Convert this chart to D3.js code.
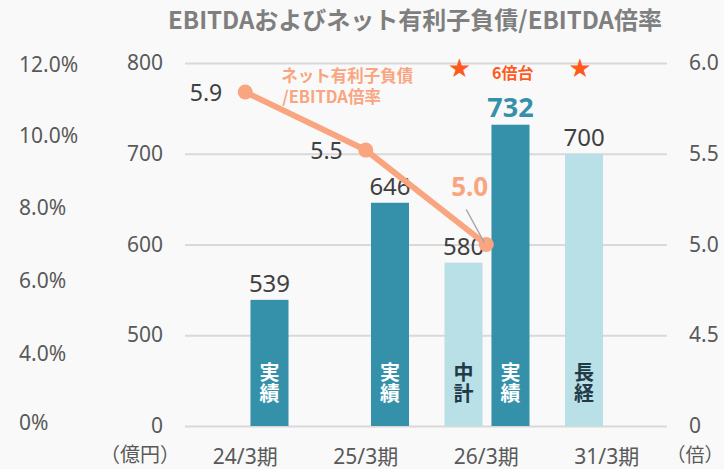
<!DOCTYPE html>
<html>
<head>
<meta charset="utf-8">
<script src="https://cdn.jsdelivr.net/npm/d3@7"></script>
<style>
    body { margin: 0; background: #f9f9f9; }
    svg { display: block; background: #f9f9f9; font-family: "Noto Sans", "Noto Sans CJK JP", sans-serif; }
</style>
</head>
<body>
<svg id="drawing_region"></svg>
<script>
// data
const categories = ['24/3期', '25/3期', '26/3期', '31/3期'];
const planValues = [null, null, 580, 700];       // 中計 / 長経 targets
const planTags = ['', '', '中計', '長経'];
const actualValues = [539, 646, 732, null];      // 実績
const actualTag = '実績';
const ratioValues = [5.84, 5.52, 5.0];           // ネット有利子負債/EBITDA倍率
const ratioLabels = ['5.9', '5.5', '5.0'];
const amountTicks = [0, 500, 600, 700, 800];
const ratioTicks = [0, 4.5, 5.0, 5.5, 6.0];
const percentTicks = [0, 4, 6, 8, 10, 12];
const highlightCategory = '26/3期';

class ComboChart {

    constructor( config ) {
        this.config = config;
        this.bar_dark = '#3591aa';
        this.bar_light = '#b9dfe7';
        this.line_color = '#f9a57f';
        this.accent = '#ff5a1e';
        this.init();
    }

    init() {
        let self = this;
        const m = self.config.margin;

        self.svg = d3.select( self.config.parent )
            .attr('width', self.config.width)
            .attr('height', self.config.height);

        self.inner_width = self.config.width - m.left - m.right;
        self.inner_height = self.config.height - m.top - m.bottom;
        const h = self.inner_height;

        self.chart = self.svg.append('g')
            .attr('transform', `translate(${m.left}, ${m.top})`);

        self.xscale = d3.scaleBand()
            .domain( categories )
            .range( [0, self.inner_width] );

        self.subscale = d3.scaleBand()
            .domain( ['plan', 'actual'] )
            .range( [18.5, 103.5] )
            .paddingInner( 0.19 );

        // broken axes: the first band covers 0 -> first tick
        self.yscale = d3.scaleLinear()
            .domain( amountTicks )
            .range( [h, h*3/4, h/2, h/4, 0] );

        self.rscale = d3.scaleLinear()
            .domain( ratioTicks )
            .range( [h, h*3/4, h/2, h/4, 0] );

        self.pscale = d3.scaleLinear()
            .domain( percentTicks )
            .range( [h-3, h*0.8, h*0.6, h*0.4, h*0.2, 2] );

        self.svg.append('text')
            .attr('x', 415)
            .attr('y', 29)
            .attr('text-anchor', 'middle')
            .style('font-family', '"Noto Sans CJK JP", sans-serif')
            .style('font-size', '24px')
            .style('font-weight', 'bold')
            .style('fill', '#7f7f7f')
            .text('EBITDAおよびネット有利子負債/EBITDA倍率');
    }

    render() {
        let self = this;
        const h = self.inner_height;
        const w = self.inner_width;
        const bw = self.subscale.bandwidth();

        // percentage axis (far left)
        const paxis = self.chart.append('g')
            .attr('transform', `translate(${19 - self.config.margin.left}, 0)`)
            .call( d3.axisRight( self.pscale )
                .tickValues( percentTicks )
                .tickSize( 0 ).tickPadding( 0 )
                .tickFormat( d => d === 0 ? '0%' : d.toFixed(1) + '%' ) );

        // amount axis with gridlines
        const yaxis = self.chart.append('g')
            .call( d3.axisLeft( self.yscale )
                .tickValues( amountTicks )
                .tickSizeInner( -w ).tickSizeOuter( 0 ).tickPadding( 22 ) );

        // ratio axis (right)
        const raxis = self.chart.append('g')
            .attr('transform', `translate(${w}, 0)`)
            .call( d3.axisRight( self.rscale )
                .tickValues( ratioTicks )
                .tickSize( 0 ).tickPadding( 22 )
                .tickFormat( d => d === 0 ? '0' : d.toFixed(1) ) );

        const xaxis = self.chart.append('g')
            .attr('transform', `translate(0, ${h})`)
            .call( d3.axisBottom( self.xscale ).tickSize( 0 ).tickPadding( 23 ) );

        [paxis, yaxis, raxis, xaxis].forEach( g => {
            g.select('.domain').remove();
            g.selectAll('text')
                .style('font-size', '21px')
                .style('fill', '#595959')
                .style('font-family', '"Noto Sans", "Noto Sans CJK JP", sans-serif');
        });
        yaxis.selectAll('line')
            .attr('stroke', '#d9d9d9')
            .attr('stroke-width', 2);

        self.chart.append('text')
            .attr('x', 140 - self.config.margin.left)
            .attr('y', h + 36)
            .attr('text-anchor', 'middle')
            .style('font-size', '20px')
            .style('fill', '#595959')
            .text('（億円）');

        self.chart.append('text')
            .attr('x', w + 28)
            .attr('y', h + 36)
            .attr('text-anchor', 'middle')
            .style('font-size', '19px')
            .style('fill', '#595959')
            .text('（倍）');

        // bars
        const bars = [];
        categories.forEach( (c, i) => {
            if (planValues[i] != null) bars.push({ cat: c, key: 'plan', value: planValues[i], tag: planTags[i] });
            if (actualValues[i] != null) bars.push({ cat: c, key: 'actual', value: actualValues[i], tag: actualTag });
        });
        const bx = d => self.xscale( d.cat ) + self.subscale( d.key );
        const hi = d => d.key === 'actual' && d.cat === highlightCategory;

        self.chart.selectAll('rect.bar')
            .data( bars )
            .join('rect')
            .attr('class', 'bar')
            .attr('x', bx)
            .attr('y', d => self.yscale( d.value ))
            .attr('width', bw)
            .attr('height', d => h - self.yscale( d.value ))
            .attr('fill', d => d.key === 'actual' ? self.bar_dark : self.bar_light);

        // value labels above bars
        self.chart.selectAll('text.value')
            .data( bars )
            .join('text')
            .attr('class', 'value')
            .attr('x', d => bx(d) + bw / 2)
            .attr('y', d => self.yscale( d.value ) - 8)
            .attr('text-anchor', 'middle')
            .style('font-size', d => hi(d) ? '27px' : '24px')
            .style('font-weight', d => hi(d) ? 'bold' : 'normal')
            .style('fill', d => hi(d) ? self.bar_dark : '#404040')
            .text(d => d.value);

        // vertical tags inside bars
        self.chart.selectAll('text.tag')
            .data( bars )
            .join('text')
            .attr('class', 'tag')
            .attr('x', d => bx(d) + bw / 2)
            .attr('y', h - 64)
            .style('writing-mode', 'vertical-rl')
            .style('text-orientation', 'upright')
            .style('letter-spacing', '1px')
            .style('font-family', '"Noto Sans CJK JP", sans-serif')
            .style('font-size', '20px')
            .style('font-weight', 'bold')
            .style('fill', d => d.key === 'actual' ? '#ffffff' : '#1f3b47')
            .text( d => d.tag );

        // ratio line
        const pts = ratioValues.map( (v, i) => ({
            x: self.xscale( categories[i] ) + self.xscale.bandwidth() / 2,
            y: self.rscale( v ),
            label: ratioLabels[i]
        }));

        self.chart.append('path')
            .datum( pts )
            .attr('fill', 'none')
            .attr('stroke', self.line_color)
            .attr('stroke-width', 6)
            .attr('d', d3.line().x(d => d.x).y(d => d.y));

        self.chart.selectAll('circle')
            .data( pts )
            .join('circle')
            .attr('cx', d => d.x)
            .attr('cy', d => d.y)
            .attr('r', 7.5)
            .attr('fill', self.line_color);

        pts.forEach( (p, i) => {
            if (i < pts.length - 1) {
                self.chart.append('text')
                    .attr('x', p.x - 23)
                    .attr('y', p.y)
                    .attr('text-anchor', 'end')
                    .attr('dominant-baseline', 'central')
                    .style('font-size', '23px')
                    .style('fill', '#404040')
                    .text( p.label );
            } else {
                // callout for the latest value
                self.chart.append('line')
                    .attr('x1', p.x - 20).attr('y1', p.y - 35)
                    .attr('x2', p.x - 2).attr('y2', p.y - 2)
                    .attr('stroke', '#a6a6a6')
                    .attr('stroke-width', 1.5);
                self.chart.append('text')
                    .attr('x', p.x + 2)
                    .attr('y', p.y - 59)
                    .attr('text-anchor', 'end')
                    .attr('dominant-baseline', 'central')
                    .style('font-size', '26px')
                    .style('font-weight', 'bold')
                    .style('fill', self.line_color)
                    .text( p.label );
            }
        });

        // series label
        const lbl = self.chart.append('text')
            .style('font-family', '"Noto Sans CJK JP", sans-serif')
            .style('font-size', '16.5px')
            .style('font-weight', 'bold')
            .style('fill', self.line_color);
        lbl.append('tspan').attr('x', pts[0].x + 36).attr('y', 19).text('ネット有利子負債');
        lbl.append('tspan').attr('x', pts[0].x + 37).attr('y', 40).text('/EBITDA倍率');

        // stars above plan bars + 6倍台
        const starX = [categories[2], categories[3]]
            .map( c => self.xscale( c ) + self.subscale( 'plan' ) + bw / 2 - 4 );
        starX.forEach( x => {
            self.chart.append('text')
                .attr('x', x)
                .attr('y', 5)
                .attr('text-anchor', 'middle')
                .attr('dominant-baseline', 'central')
                .style('font-family', '"DejaVu Sans", sans-serif')
                .style('font-size', '26px')
                .style('fill', self.accent)
                .text('★');
        });
        self.chart.append('text')
            .attr('x', d3.mean( starX ) - 7)
            .attr('y', 9)
            .attr('text-anchor', 'middle')
            .attr('dominant-baseline', 'central')
            .style('font-family', '"Noto Sans CJK JP", sans-serif')
            .style('font-size', '16px')
            .style('font-weight', 'bold')
            .style('fill', self.accent)
            .text('6倍台');
    }
}

const config = {
    parent: '#drawing_region',
    width: 724,
    height: 469,
    margin: {top: 63, right: 57, bottom: 43, left: 185}
};

const chart = new ComboChart( config );
chart.render();
</script>
</body>
</html>
